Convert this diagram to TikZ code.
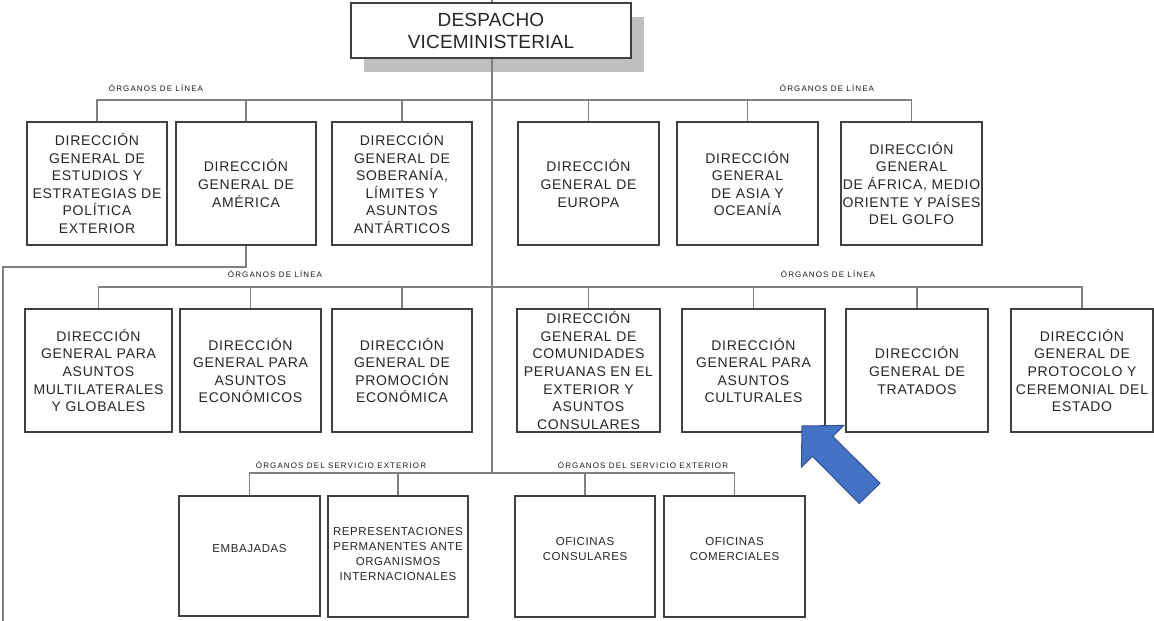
\documentclass[tikz,border=0pt]{standalone}
\usepackage{fontspec}
\setmainfont{Liberation Sans}
\newfontfamily\boxfont{Liberation Sans}[LetterSpace=5]
\newfontfamily\topfont{Liberation Sans}[LetterSpace=1]
\newfontfamily\labfont{Liberation Sans}[LetterSpace=14]
\definecolor{boxc}{HTML}{404040}
\definecolor{linec}{HTML}{808080}
\definecolor{shadowc}{HTML}{BFBFBF}
\definecolor{arrowfill}{HTML}{4472C4}
\definecolor{arrowline}{HTML}{2F528F}
\tikzset{
  orgbox/.style={draw=boxc, line width=1.2pt, fill=white, inner sep=0pt, align=center,
    font=\boxfont\fontsize{14}{17.6}\selectfont, text=black!85},
  smallbox/.style={orgbox},
  smalltext/.style={inner sep=0pt, align=center, font=\boxfont\fontsize{11.5}{15}\selectfont, text=black!85},
  toplab/.style={inner sep=0pt, font=\labfont\fontsize{8}{9}\selectfont, text=black!90},
  conn/.style={draw=linec, line width=1.1pt},
}
\newcommand{\obox}[7]{% name, x1, y1, x2, y2, style, text
  \node[#6, minimum width={(#4-#2)*1pt}, minimum height={(#5-#3)*1pt}] (#1) at ({(#2+#4)/2},{(#3+#5)/2}) {#7};}
\newcommand{\smbox}[7]{% name, x1, y1, x2, y2, text y, text
  \node[smallbox, minimum width={(#4-#2)*1pt}, minimum height={(#5-#3)*1pt}] (#1) at ({(#2+#4)/2},{(#3+#5)/2}) {};
  \node[smalltext] (#1t) at ({(#2+#4)/2},#6) {#7};}
\begin{document}
\begin{tikzpicture}[x=1pt,y=-1pt]
\useasboundingbox (0,0) rectangle (1154,621);
% shadow of top box
\fill[shadowc] (364,17) rectangle (644,72);
% coordinates
\coordinate (t0) at (492,0);
\coordinate (r1) at (492,100);
\coordinate (r2) at (492,287);
\coordinate (r3) at (492,473);
\coordinate (lc) at (3,267);
\coordinate (lend) at (3,621);
\draw[conn] (t0) -- (r3);
% top box
\node[draw=boxc, line width=1.2pt, fill=white, inner sep=0pt, align=center,
  minimum width=280pt, minimum height=55pt, font=\topfont\fontsize{19}{22}\selectfont, text=black!85]
  (top) at (491,30.5) {DESPACHO\\VICEMINISTERIAL};
% row 1
\obox{b1}{27}{122}{167}{245}{orgbox}{DIRECCIÓN\\GENERAL DE\\ESTUDIOS Y\\ESTRATEGIAS DE\\POLÍTICA\\EXTERIOR}
\obox{b2}{176}{122}{316}{245}{orgbox}{DIRECCIÓN\\GENERAL DE\\AMÉRICA}
\obox{b3}{332}{122}{472}{245}{orgbox}{DIRECCIÓN\\GENERAL DE\\SOBERANÍA,\\LÍMITES Y\\ASUNTOS\\ANTÁRTICOS}
\obox{b4}{518}{122}{659}{245}{orgbox}{DIRECCIÓN\\GENERAL DE\\EUROPA}
\obox{b5}{677}{122}{818}{245}{orgbox}{DIRECCIÓN\\GENERAL\\DE ASIA Y\\OCEANÍA}
\obox{b6}{841}{122}{982}{245}{orgbox}{DIRECCIÓN\\GENERAL\\DE ÁFRICA, MEDIO\\ORIENTE Y PAÍSES\\DEL GOLFO}
% row 2
\obox{b7}{25}{309}{172}{432}{orgbox}{DIRECCIÓN\\GENERAL PARA\\ASUNTOS\\MULTILATERALES\\Y GLOBALES}
\obox{b8}{180}{309}{321}{432}{orgbox}{DIRECCIÓN\\GENERAL PARA\\ASUNTOS\\ECONÓMICOS}
\obox{b9}{332}{309}{472}{432}{orgbox}{DIRECCIÓN\\GENERAL DE\\PROMOCIÓN\\ECONÓMICA}
\obox{b10}{517}{309}{660}{432}{orgbox}{DIRECCIÓN\\GENERAL DE\\COMUNIDADES\\PERUANAS EN EL\\EXTERIOR Y\\ASUNTOS\\CONSULARES}
\obox{b11}{682}{309}{825}{432}{orgbox}{DIRECCIÓN\\GENERAL PARA\\ASUNTOS\\CULTURALES}
\obox{b12}{846}{309}{988}{432}{orgbox}{DIRECCIÓN\\GENERAL DE\\TRATADOS}
\obox{b13}{1011}{309}{1153}{432}{orgbox}{DIRECCIÓN\\GENERAL DE\\PROTOCOLO Y\\CEREMONIAL DEL\\ESTADO}
% row 3
\smbox{b14}{179}{496}{320}{616}{549}{EMBAJADAS}
\smbox{b15}{328}{496}{468}{617}{554}{REPRESENTACIONES\\PERMANENTES ANTE\\ORGANISMOS\\INTERNACIONALES}
\smbox{b16}{515}{496}{655}{617}{549}{OFICINAS\\CONSULARES}
\smbox{b17}{664}{496}{805}{617}{549}{OFICINAS\\COMERCIALES}
% labels
\node[toplab] (l1) at (156,88) {ÓRGANOS DE LÍNEA};
\node[toplab] (l2) at (827,88) {ÓRGANOS DE LÍNEA};
\node[toplab] (l3) at (275,274) {ÓRGANOS DE LÍNEA};
\node[toplab] (l4) at (828,274) {ÓRGANOS DE LÍNEA};
\node[toplab] (l5) at (341,465) {ÓRGANOS DEL SERVICIO EXTERIOR};
\node[toplab] (l6) at (643,465) {ÓRGANOS DEL SERVICIO EXTERIOR};
% connectors
\foreach \b in {b1,b2,b3,b4,b5,b6} \draw[conn] (r1) -| (\b.north);
\foreach \b in {b7,b8,b9,b10,b11,b12,b13} \draw[conn] (r2) -| (\b.north);
\foreach \b in {b14,b15,b16,b17} \draw[conn] (r3) -| (\b.north);
\draw[conn] (b2.south) |- (lc) -- (lend);
% blue arrow
\filldraw[fill=arrowfill, draw=arrowline, line width=1pt, line join=miter]
  (802,426) -- (843.7,425.4) -- (832.7,436.4) -- (880,483.2) -- (859.2,503.5)
  -- (812.4,456.2) -- (801.4,467.2) -- cycle;
\end{tikzpicture}
\end{document}
